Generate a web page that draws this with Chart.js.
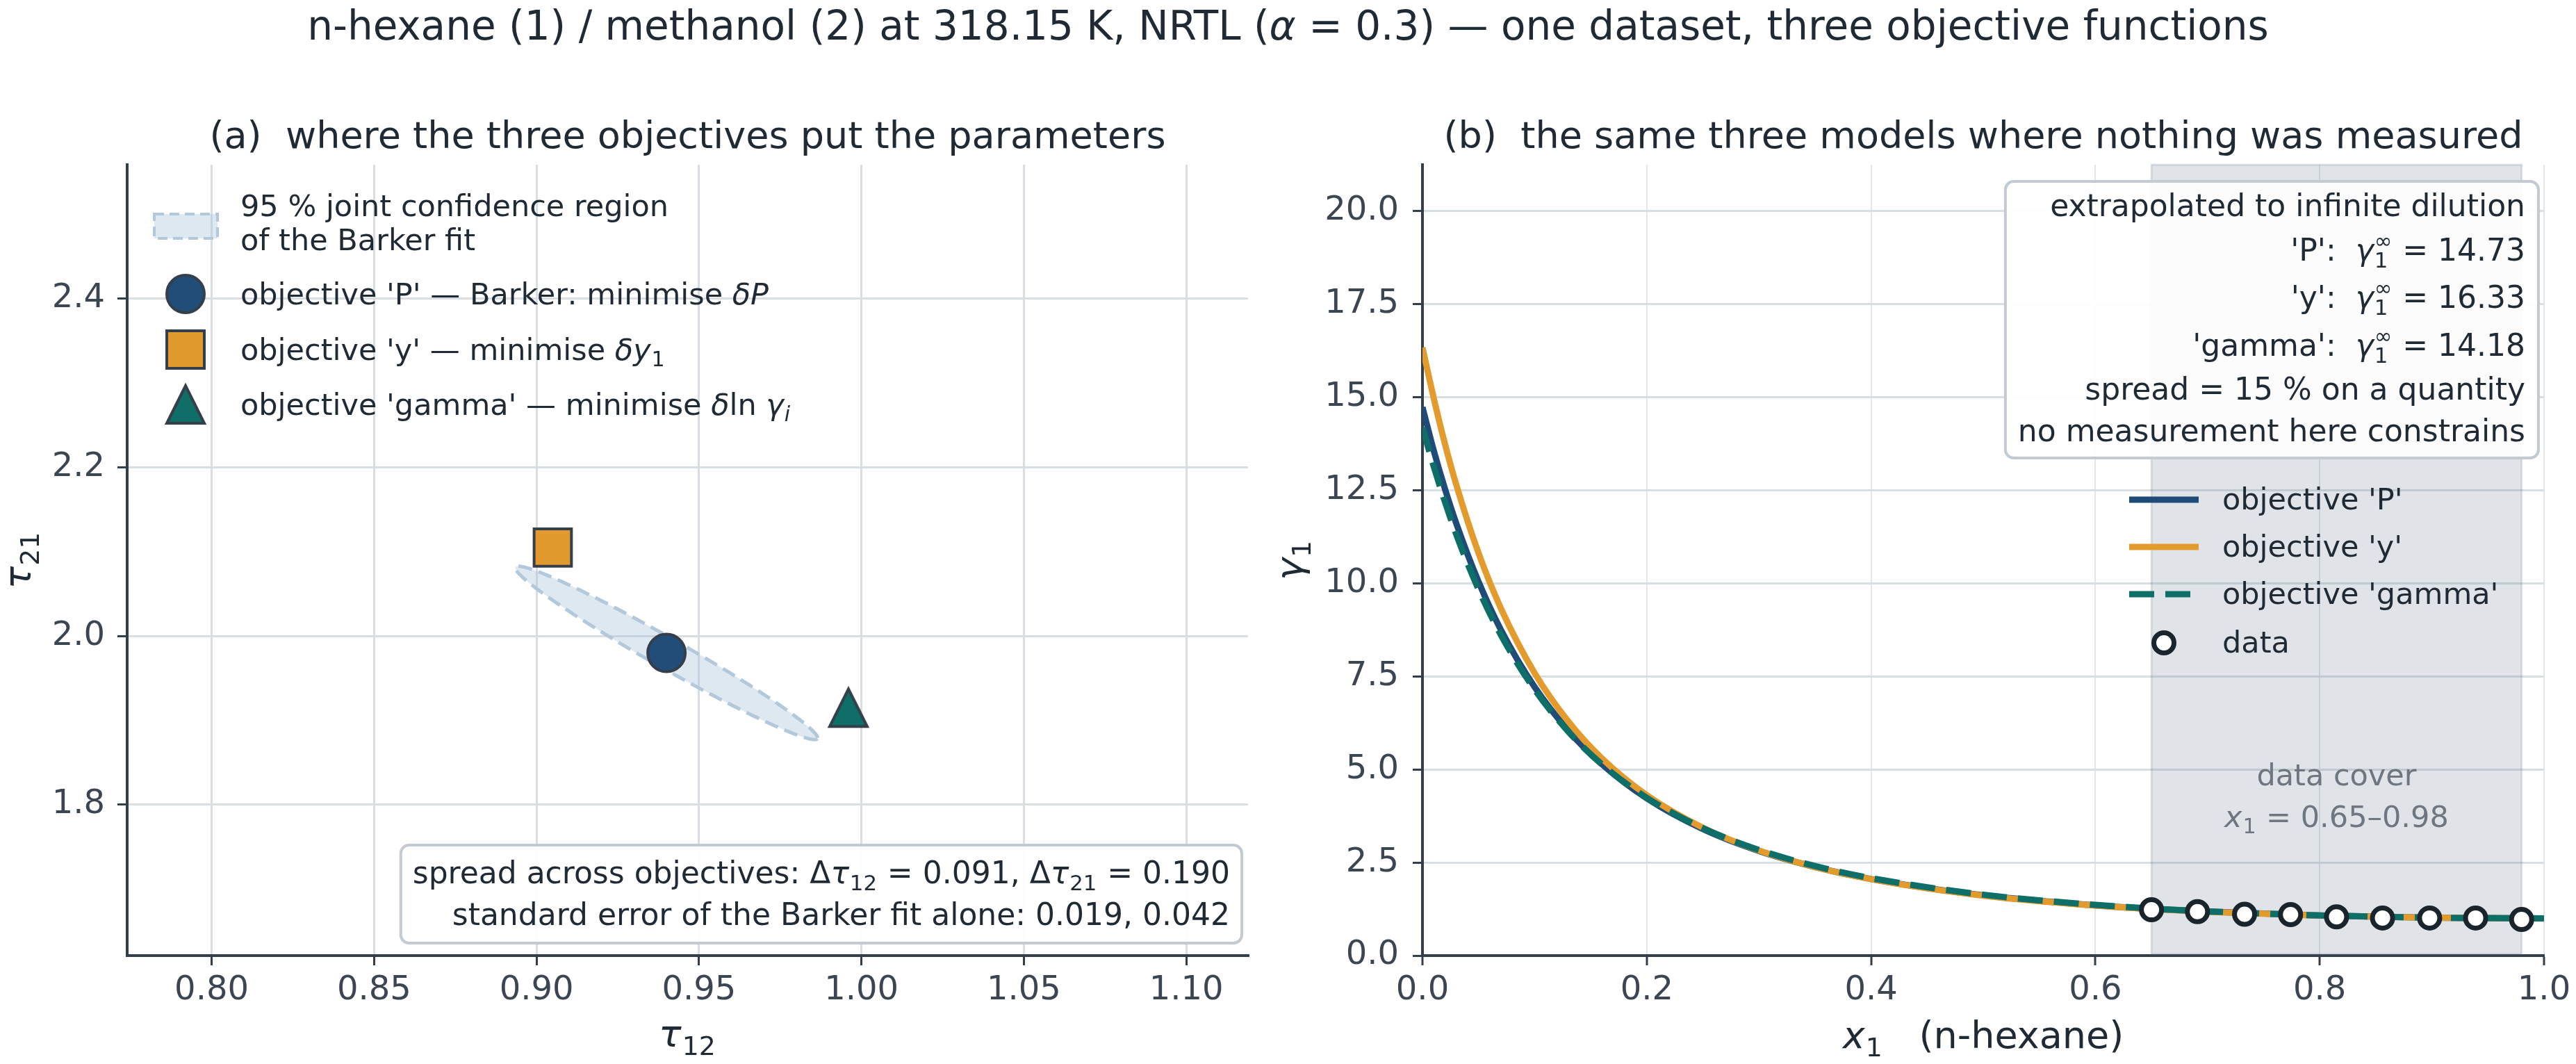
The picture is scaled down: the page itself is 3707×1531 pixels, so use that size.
<!DOCTYPE html>
<html lang="en">
<head>
<meta charset="UTF-8">
<title>NRTL: one dataset, three objective functions</title>
<script src="https://cdn.jsdelivr.net/npm/chart.js"></script>
<style>
    body { margin: 0; background: #fff; width: 3707px; height: 1531px; overflow: hidden; position: relative; }
    #suptitle {
        position: absolute; left: 0; top: 8px; width: 3707px;
        text-align: center; font: 58px "DejaVu Sans"; line-height: 1;
        color: #1f2a35; white-space: nowrap;
    }
    canvas { position: absolute; left: 0; top: 0; }
</style>
</head>
<body>
<div id="suptitle">n-hexane (1) / methanol (2) at 318.15 K, NRTL (<i>α</i> = 0.3) — one dataset, three objective functions</div>
<canvas id="paramChart" width="3707" height="1531"></canvas>
<canvas id="gammaChart" width="3707" height="1531"></canvas>

<script>
// ---- panel (a): where each objective puts (tau12, tau21) ----
const objectives = ['P', 'y', 'gamma'];
const tau12 = [0.940, 0.905, 0.996];
const tau21 = [1.980, 2.105, 1.915];
const tau12Ticks = [0.80, 0.85, 0.90, 0.95, 1.00, 1.05, 1.10];
const tau21Ticks = [1.8, 2.0, 2.2, 2.4];
// Barker fit: standard errors and correlation -> 95 % joint region
const barkerSE = [0.019, 0.042];
const barkerCorr = -0.98;
const chi2_95 = 5.991;

// ---- panel (b): gamma_1 from the three parameter sets ----
const xModel = [0, 0.01, 0.02, 0.03, 0.05, 0.07, 0.10, 0.13, 0.16, 0.20, 0.25, 0.30, 0.35, 0.40, 0.50, 0.60, 0.65, 0.70, 0.80, 0.90, 1.00];
const gammaP = [14.73, 13.57, 12.54, 11.62, 10.04, 8.744, 7.212, 6.044, 5.138, 4.221, 3.396, 2.808, 2.378, 2.055, 1.618, 1.349, 1.255, 1.180, 1.076, 1.019, 1.000];
const gammaY = [16.33, 14.98, 13.75, 12.66, 10.81, 9.322, 7.588, 6.289, 5.297, 4.309, 3.435, 2.822, 2.379, 2.050, 1.609, 1.342, 1.249, 1.176, 1.074, 1.018, 1.000];
const gammaG = [14.18, 13.14, 12.19, 11.32, 9.834, 8.608, 7.144, 6.017, 5.136, 4.238, 3.423, 2.837, 2.405, 2.080, 1.636, 1.361, 1.264, 1.187, 1.079, 1.019, 1.000];
const xData = [0.650, 0.691, 0.733, 0.774, 0.815, 0.856, 0.898, 0.939, 0.980];
const gammaData = [1.23, 1.18, 1.11, 1.10, 1.04, 1.01, 1.01, 1.01, 0.97];
const gammaInf = [14.73, 16.33, 14.18];
const dataRange = [0.65, 0.98];
const xTicks = [0.0, 0.2, 0.4, 0.6, 0.8, 1.0];
const gammaTicks = [0.0, 2.5, 5.0, 7.5, 10.0, 12.5, 15.0, 17.5, 20.0];

// ---- look ----
const W = 3707;
const FONT = '"DejaVu Sans"';
const TEXT = '#1f2a35', TICK = '#3b4652', AXIS = '#333f4b', GRID = '#d9dee3';
const objColors = ['#204e78', '#e19a2d', '#0f6e68'];
const markerEdge = '#343f4b';
const NOTE_SIZE = 44;

Chart.defaults.font.family = FONT;
Chart.defaults.color = TICK;

function fontStr(size, italic) {
    return (italic ? 'italic ' : '') + size + 'px ' + FONT;
}

// rich text: plain strings, {t, it} runs, {sub, sup} scripts
function partWidth(ctx, p, size) {
    if (typeof p === 'string') { ctx.font = fontStr(size); return ctx.measureText(p).width; }
    if (p.sub !== undefined || p.sup !== undefined) {
        const s = size * 0.7;
        let w = 0;
        if (p.sub) { ctx.font = fontStr(s, p.subIt); w = Math.max(w, ctx.measureText(p.sub).width); }
        if (p.sup) { ctx.font = fontStr(s); w = Math.max(w, ctx.measureText(p.sup).width); }
        return w + size * 0.04;
    }
    ctx.font = fontStr(size, p.it);
    return ctx.measureText(p.t).width;
}

function richWidth(ctx, parts, size) {
    return parts.reduce((w, p) => w + partWidth(ctx, p, size), 0);
}

function drawRich(ctx, parts, x, y, size, align, color) {
    const w = richWidth(ctx, parts, size);
    let cx = align === 'right' ? x - w : align === 'center' ? x - w / 2 : x;
    ctx.save();
    ctx.fillStyle = color;
    ctx.textAlign = 'left';
    ctx.textBaseline = 'alphabetic';
    parts.forEach(p => {
        if (typeof p === 'string') {
            ctx.font = fontStr(size);
            ctx.fillText(p, cx, y);
        } else if (p.sub !== undefined || p.sup !== undefined) {
            const s = size * 0.7;
            if (p.sub) { ctx.font = fontStr(s, p.subIt); ctx.fillText(p.sub, cx + size * 0.02, y + size * 0.22); }
            if (p.sup) { ctx.font = fontStr(s); ctx.fillText(p.sup, cx + size * 0.02, y - size * 0.42); }
        } else {
            ctx.font = fontStr(size, p.it);
            ctx.fillText(p.t, cx, y);
        }
        cx += partWidth(ctx, p, size);
    });
    ctx.restore();
    return w;
}

function drawRotated(ctx, parts, x, y, size, color) {
    ctx.save();
    ctx.translate(x, y);
    ctx.rotate(-Math.PI / 2);
    drawRich(ctx, parts, 0, 0, size, 'center', color);
    ctx.restore();
}

function roundBox(ctx, l, t, r, b) {
    ctx.save();
    ctx.beginPath();
    ctx.roundRect(l, t, r - l, b - t, 12);
    ctx.fillStyle = 'rgba(255,255,255,0.92)';
    ctx.fill();
    ctx.lineWidth = 4;
    ctx.strokeStyle = '#c3cad1';
    ctx.stroke();
    ctx.restore();
}

// legend markers, same shapes as the plotted points
function drawMarker(ctx, style, x, y, size, fill) {
    const h = size / 2 - 2;
    ctx.save();
    ctx.beginPath();
    if (style === 'circle') ctx.arc(x, y, h, 0, 2 * Math.PI);
    else if (style === 'rect') ctx.rect(x - h, y - h, 2 * h, 2 * h);
    else { ctx.moveTo(x, y - h); ctx.lineTo(x + h, y + h); ctx.lineTo(x - h, y + h); ctx.closePath(); }
    ctx.fillStyle = fill;
    ctx.fill();
    ctx.lineWidth = 4;
    ctx.strokeStyle = markerEdge;
    ctx.lineJoin = 'miter';
    ctx.stroke();
    ctx.restore();
}

// matplotlib-style '^' (as wide as it is tall) used as a point image
function triangleSprite(size, fill) {
    const c = document.createElement('canvas');
    c.width = size + 8; c.height = size + 8;
    drawMarker(c.getContext('2d'), 'triangle', c.width / 2, c.height / 2, size, fill);
    return c;
}

function fixedAxis(size, isY) {
    return s => {
        if (isY) s.width = size; else s.height = size;
        s.paddingLeft = 0; s.paddingRight = 0; s.paddingTop = 0; s.paddingBottom = 0;
    };
}

const ELLIPSE_FILL = 'rgba(161,189,215,0.35)';
const ELLIPSE_EDGE = '#b3c8da';

// ---------------- panel (a) ----------------
const panelA = {
    id: 'panelA',
    beforeDatasetsDraw(chart) {
        const { ctx, chartArea: ca, scales: { x, y } } = chart;
        const k = Math.sqrt(chi2_95);
        const r = barkerCorr;
        ctx.save();
        ctx.beginPath();
        ctx.rect(ca.left, ca.top, ca.right - ca.left, ca.bottom - ca.top);
        ctx.clip();
        ctx.beginPath();
        for (let i = 0; i <= 240; i++) {
            const t = i / 240 * 2 * Math.PI;
            const a = tau12[0] + k * barkerSE[0] * Math.cos(t);
            const b = tau21[0] + k * barkerSE[1] * (r * Math.cos(t) + Math.sqrt(1 - r * r) * Math.sin(t));
            const px = x.getPixelForValue(a), py = y.getPixelForValue(b);
            if (i) ctx.lineTo(px, py); else ctx.moveTo(px, py);
        }
        ctx.closePath();
        ctx.fillStyle = ELLIPSE_FILL;
        ctx.fill();
        ctx.setLineDash([20, 10]);
        ctx.lineWidth = 5;
        ctx.strokeStyle = ELLIPSE_EDGE;
        ctx.stroke();
        ctx.restore();
    },
    afterDraw(chart) {
        const { ctx, chartArea: ca } = chart;
        const cx = (ca.left + ca.right) / 2;
        drawRich(ctx, ['(a)  where the three objectives put the parameters'], cx, 213, 54, 'center', TEXT);
        drawRich(ctx, [{ t: 'τ', it: true }, { sub: '12' }], cx, 1506, 54, 'center', TEXT);
        drawRotated(ctx, [{ t: 'τ', it: true }, { sub: '21' }], 44, (ca.top + ca.bottom) / 2, 54, TEXT);

        // legend
        const lx = ca.left + 163, fs = 43;
        ctx.save();
        ctx.fillStyle = ELLIPSE_FILL;
        ctx.fillRect(ca.left + 39, ca.top + 71, 91, 35);
        ctx.setLineDash([14, 8]);
        ctx.lineWidth = 4;
        ctx.strokeStyle = ELLIPSE_EDGE;
        ctx.strokeRect(ca.left + 39, ca.top + 71, 91, 35);
        ctx.restore();
        drawRich(ctx, ['95 % joint confidence region'], lx, ca.top + 74, fs, 'left', TEXT);
        drawRich(ctx, ['of the Barker fit'], lx, ca.top + 123, fs, 'left', TEXT);
        const entries = [
            ["objective 'P' — Barker: minimise ", { t: 'δP', it: true }],
            ["objective 'y' — minimise ", { t: 'δy', it: true }, { sub: '1' }],
            ["objective 'gamma' — minimise ", { t: 'δ', it: true }, 'ln ', { t: 'γ', it: true }, { sub: 'i', subIt: true }]
        ];
        const styles = ['circle', 'rect', 'triangle'];
        const rows = [186, 266, 345];
        entries.forEach((parts, i) => {
            drawMarker(ctx, styles[i], ca.left + 84, ca.top + rows[i], 58, objColors[i]);
            drawRich(ctx, parts, lx, ca.top + rows[i] + 15, fs, 'left', TEXT);
        });

        // spread box
        const d12 = Math.max(...tau12) - Math.min(...tau12);
        const d21 = Math.max(...tau21) - Math.min(...tau21);
        const lines = [
            ['spread across objectives: Δ', { t: 'τ', it: true }, { sub: '12' }, ' = ' + d12.toFixed(3) + ', Δ', { t: 'τ', it: true }, { sub: '21' }, ' = ' + d21.toFixed(3)],
            ['standard error of the Barker fit alone: ' + barkerSE[0].toFixed(3) + ', ' + barkerSE[1].toFixed(3)]
        ];
        const tr = ca.right - 26;
        const wMax = Math.max(...lines.map(l => richWidth(ctx, l, NOTE_SIZE)));
        roundBox(ctx, tr - wMax - 17, ca.bottom - 159, ca.right - 9, ca.bottom - 18);
        drawRich(ctx, lines[0], tr, ca.bottom - 104, NOTE_SIZE, 'right', TEXT);
        drawRich(ctx, lines[1], tr, ca.bottom - 44, NOTE_SIZE, 'right', TEXT);
    }
};

const pointStyles = ['circle', 'rect', triangleSprite(58, objColors[2])];
const pointSizes = [27, 38, 29];

new Chart(document.getElementById('paramChart'), {
    type: 'scatter',
    data: {
        datasets: objectives.map((name, i) => ({
            label: "objective '" + name + "'",
            data: [{ x: tau12[i], y: tau21[i] }],
            pointStyle: pointStyles[i],
            pointRadius: pointSizes[i],
            pointHoverRadius: pointSizes[i],
            backgroundColor: objColors[i],
            borderColor: markerEdge,
            borderWidth: 4
        }))
    },
    options: {
        responsive: false,
        animation: false,
        events: [],
        layout: { padding: { left: 0, right: W - 1796, top: 237, bottom: 0 }, autoPadding: false },
        plugins: { legend: { display: false }, tooltip: { enabled: false }, title: { display: false } },
        scales: {
            x: {
                type: 'linear', min: 0.774, max: 1.119,
                afterBuildTicks: s => { s.ticks = tau12Ticks.map(v => ({ value: v })); },
                afterFit: fixedAxis(156, false),
                ticks: { callback: v => v.toFixed(2), font: { size: 48 }, color: TICK, padding: 8, maxRotation: 0, autoSkip: false },
                grid: { color: GRID, lineWidth: 3, tickLength: 14, tickWidth: 3, tickColor: AXIS },
                border: { color: AXIS, width: 4 }
            },
            y: {
                type: 'linear', min: 1.621, max: 2.559,
                afterBuildTicks: s => { s.ticks = tau21Ticks.map(v => ({ value: v })); },
                afterFit: fixedAxis(183, true),
                ticks: { callback: v => v.toFixed(1), font: { size: 48 }, color: TICK, padding: 18, autoSkip: false },
                grid: { color: GRID, lineWidth: 3, tickLength: 14, tickWidth: 3, tickColor: AXIS },
                border: { color: AXIS, width: 4 }
            }
        }
    },
    plugins: [panelA]
});

// ---------------- panel (b) ----------------
const curveNames = ["objective 'P'", "objective 'y'", "objective 'gamma'"];
const curves = [gammaP, gammaY, gammaG];
const curveDash = [[], [], [36, 16]];
const lineColors = ['#1f4b78', '#e39b2d', '#0e6e68'];
const SPAN_FILL = 'rgba(100,120,140,0.2)';

const panelB = {
    id: 'panelB',
    beforeDatasetsDraw(chart) {
        const { ctx, chartArea: ca, scales: { x } } = chart;
        const x0 = x.getPixelForValue(dataRange[0]), x1 = x.getPixelForValue(dataRange[1]);
        ctx.save();
        ctx.fillStyle = SPAN_FILL;
        ctx.fillRect(x0, ca.top, x1 - x0, ca.bottom - ca.top - 2);
        ctx.strokeStyle = SPAN_FILL;
        ctx.lineWidth = 3;
        ctx.strokeRect(x0, ca.top, x1 - x0, ca.bottom - ca.top - 2);
        ctx.restore();
    },
    afterDatasetsDraw(chart) {
        const { ctx, scales: { x } } = chart;
        const mid = x.getPixelForValue((dataRange[0] + dataRange[1]) / 2);
        drawRich(ctx, ['data cover'], mid, 1130, 43, 'center', '#6e7781');
        drawRich(ctx, [{ t: 'x', it: true }, { sub: '1' }, ' = ' + dataRange[0].toFixed(2) + '–' + dataRange[1].toFixed(2)], mid, 1190, 43, 'center', '#6e7781');
    },
    afterDraw(chart) {
        const { ctx, chartArea: ca } = chart;
        const cx = (ca.left + ca.right) / 2;
        drawRich(ctx, ['(b)  the same three models where nothing was measured'], cx, 213, 54, 'center', TEXT);
        drawRich(ctx, [{ t: 'x', it: true }, { sub: '1' }, '   (n-hexane)'], cx, 1508, 54, 'center', TEXT);
        drawRotated(ctx, [{ t: 'γ', it: true }, { sub: '1' }], 1874, (ca.top + ca.bottom) / 2, 54, TEXT);

        // infinite-dilution box
        const spread = Math.round((Math.max(...gammaInf) - Math.min(...gammaInf)) / Math.min(...gammaInf) * 100);
        const lines = [['extrapolated to infinite dilution']];
        objectives.forEach((name, i) => {
            lines.push(["'" + name + "':  ", { t: 'γ', it: true }, { sub: '1', sup: '∞' }, ' = ' + gammaInf[i].toFixed(2)]);
        });
        lines.push(['spread = ' + spread + ' % on a quantity']);
        lines.push(['no measurement here constrains']);
        const base = [74, 138, 206, 275, 338, 398];
        const tr = ca.right - 27;
        const wMax = Math.max(...lines.map(l => richWidth(ctx, l, NOTE_SIZE)));
        roundBox(ctx, tr - wMax - 18, ca.top + 24, ca.right - 8, ca.top + 422);
        lines.forEach((l, i) => drawRich(ctx, l, tr, ca.top + base[i], NOTE_SIZE, 'right', TEXT));

        // legend
        const sx0 = ca.right - 597, sx1 = ca.right - 497, tx = ca.right - 463;
        const rows = [482, 550, 618, 688];
        curveNames.forEach((name, i) => {
            const yy = ca.top + rows[i];
            ctx.save();
            ctx.beginPath();
            ctx.moveTo(sx0, yy);
            ctx.lineTo(sx1, yy);
            ctx.setLineDash(curveDash[i]);
            ctx.lineWidth = 9;
            ctx.strokeStyle = lineColors[i];
            ctx.stroke();
            ctx.restore();
            drawRich(ctx, [name], tx, yy + 14, 43, 'left', TEXT);
        });
        const dy = ca.top + rows[3];
        ctx.save();
        ctx.beginPath();
        ctx.arc((sx0 + sx1) / 2, dy, 14.5, 0, 2 * Math.PI);
        ctx.fillStyle = '#fff';
        ctx.fill();
        ctx.lineWidth = 7;
        ctx.strokeStyle = '#1a242d';
        ctx.stroke();
        ctx.restore();
        drawRich(ctx, ['data'], tx, dy + 14, 43, 'left', TEXT);
    }
};

new Chart(document.getElementById('gammaChart'), {
    type: 'line',
    data: {
        datasets: [
            {
                label: 'data',
                type: 'scatter',
                data: xData.map((x, i) => ({ x: x, y: gammaData[i] })),
                showLine: false,
                pointRadius: 14.5,
                pointHoverRadius: 14.5,
                pointBackgroundColor: '#ffffff',
                pointBorderColor: '#1a242d',
                pointBorderWidth: 7,
                order: 0
            }
        ].concat(curves.map((c, i) => ({
            label: curveNames[i],
            data: xModel.map((x, j) => ({ x: x, y: c[j] })),
            borderColor: lineColors[i],
            borderWidth: 9,
            borderDash: curveDash[i],
            borderJoinStyle: 'round',
            pointRadius: 0,
            fill: false,
            cubicInterpolationMode: 'monotone',
            order: 3 - i
        })))
    },
    options: {
        responsive: false,
        animation: false,
        events: [],
        layout: { padding: { left: 1850, right: W - 3661, top: 237, bottom: 0 }, autoPadding: false },
        plugins: { legend: { display: false }, tooltip: { enabled: false }, title: { display: false } },
        scales: {
            x: {
                type: 'linear', min: 0, max: 1,
                afterBuildTicks: s => { s.ticks = xTicks.map(v => ({ value: v })); },
                afterFit: fixedAxis(156, false),
                ticks: { callback: v => v.toFixed(1), font: { size: 48 }, color: TICK, padding: 8, maxRotation: 0, autoSkip: false },
                grid: { color: '#e2e6ea', lineWidth: 2, tickLength: 14, tickWidth: 3, tickColor: AXIS },
                border: { color: AXIS, width: 4 }
            },
            y: {
                type: 'linear', min: 0, max: 21.24,
                afterBuildTicks: s => { s.ticks = gammaTicks.map(v => ({ value: v })); },
                afterFit: fixedAxis(197, true),
                ticks: { callback: v => v.toFixed(1), font: { size: 48 }, color: TICK, padding: 20, autoSkip: false },
                grid: { color: GRID, lineWidth: 3, tickLength: 14, tickWidth: 3, tickColor: AXIS },
                border: { color: AXIS, width: 4 }
            }
        }
    },
    plugins: [panelB]
});
</script>
</body>
</html>
